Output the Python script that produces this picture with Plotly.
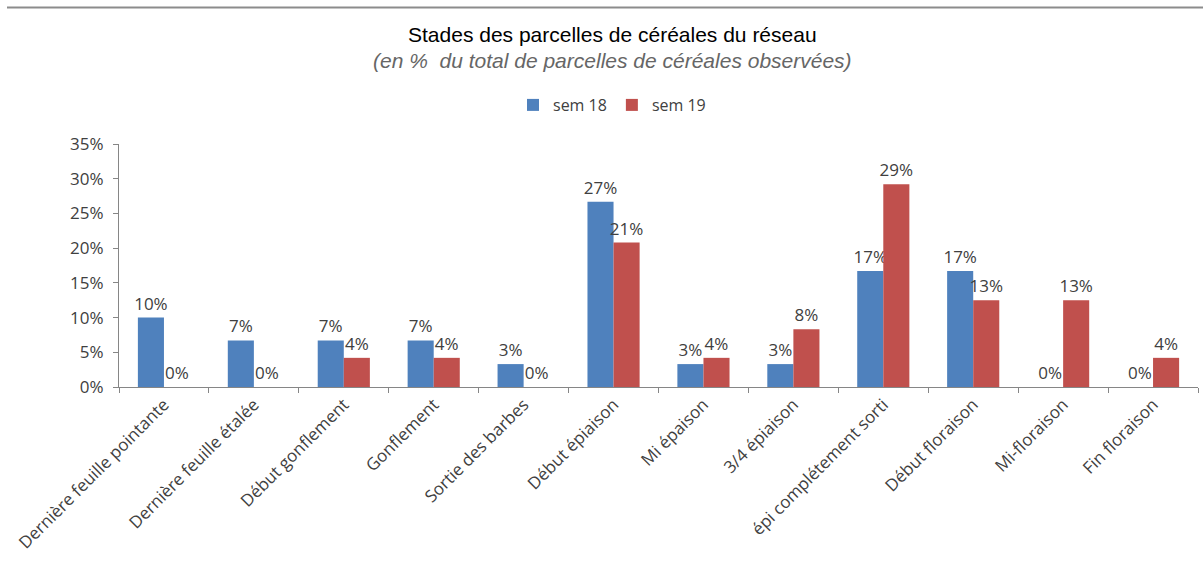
import plotly.graph_objects as go

categories = [
    "Dernière feuille pointante", "Dernière feuille étalée", "Début gonflement",
    "Gonflement", "Sortie des barbes", "Début épiaison", "Mi épaison",
    "3/4 épiaison", "épi complétement sorti", "Début floraison",
    "Mi-floraison", "Fin floraison",
]
sem18 = [10.0, 6.7, 6.7, 6.7, 3.3, 26.7, 3.3, 3.3, 16.7, 16.7, 0.0, 0.0]
sem19 = [0.0, 0.0, 4.2, 4.2, 0.0, 20.8, 4.2, 8.3, 29.2, 12.5, 12.5, 4.2]
series_names = ["sem 18", "sem 19"]
y_ticks = [0, 5, 10, 15, 20, 25, 30, 35]

W, H = 1203, 564
L, R, T, B = 119, 5, 144, 177
plot_h = H - T - B
plot_w = W - L - R

def py(pix):
    return (H - B - pix) / plot_h

def px(pix):
    return (pix - L) / plot_w

FONT = "Liberation Sans"
LABEL_FONT = "Open Sans"
TXT = "#404040"

fig = go.Figure()
for name, vals, color in [(series_names[0], sem18, "#4F81BD"), (series_names[1], sem19, "#C0504D")]:
    fig.add_trace(go.Bar(
        x=categories, y=vals, name=name,
        marker=dict(color=color, line=dict(width=0)),
        texttemplate="%{y:.0f}%", textposition="outside", constraintext="none",
        textfont=dict(family=LABEL_FONT, size=17, color=TXT),
        cliponaxis=False,
    ))

fig.update_layout(
    width=W, height=H,
    margin=dict(l=L, r=R, t=T, b=B),
    paper_bgcolor="white", plot_bgcolor="white",
    barmode="group", bargap=0.42, bargroupgap=0,
    showlegend=True,
    legend=dict(orientation="h", x=px(612), xanchor="center", y=py(105), yanchor="middle",
                font=dict(family=LABEL_FONT, size=16, color=TXT),
                itemwidth=30, tracegroupgap=0),
    xaxis=dict(
        type="category", tickangle=-45, tickson="boundaries",
        ticks="outside", ticklen=5, tickcolor="#868686",
        showline=True, linecolor="#868686", linewidth=1,
        tickfont=dict(family=LABEL_FONT, size=17, color=TXT),
        showgrid=False,
    ),
    yaxis=dict(
        range=[0, 35], tickvals=y_ticks, ticktext=[f"{v}%" for v in y_ticks],
        ticks="outside", ticklen=5, tickcolor="#868686",
        showline=True, linecolor="#868686", linewidth=1,
        tickfont=dict(family=LABEL_FONT, size=17, color=TXT),
        ticklabelstandoff=6,
        showgrid=False, zeroline=False,
    ),
    annotations=[
        dict(text="Stades des parcelles de céréales du réseau", xref="paper", yref="paper",
             x=px(612), y=py(35), xanchor="center", yanchor="middle", showarrow=False,
             font=dict(family=FONT, size=21, color="#000000")),
        dict(text="<i>(en %  du total de parcelles de céréales observées)</i>", xref="paper", yref="paper",
             x=px(612), y=py(61), xanchor="center", yanchor="middle", showarrow=False,
             font=dict(family=FONT, size=21, color="#666666")),
    ],
    shapes=[
        dict(type="line", xref="paper", yref="paper", x0=px(7), x1=px(1203), y0=py(7.5), y1=py(7.5),
             line=dict(color="#8c8c8c", width=2)),
    ],
)

fig.write_html("out.html")
